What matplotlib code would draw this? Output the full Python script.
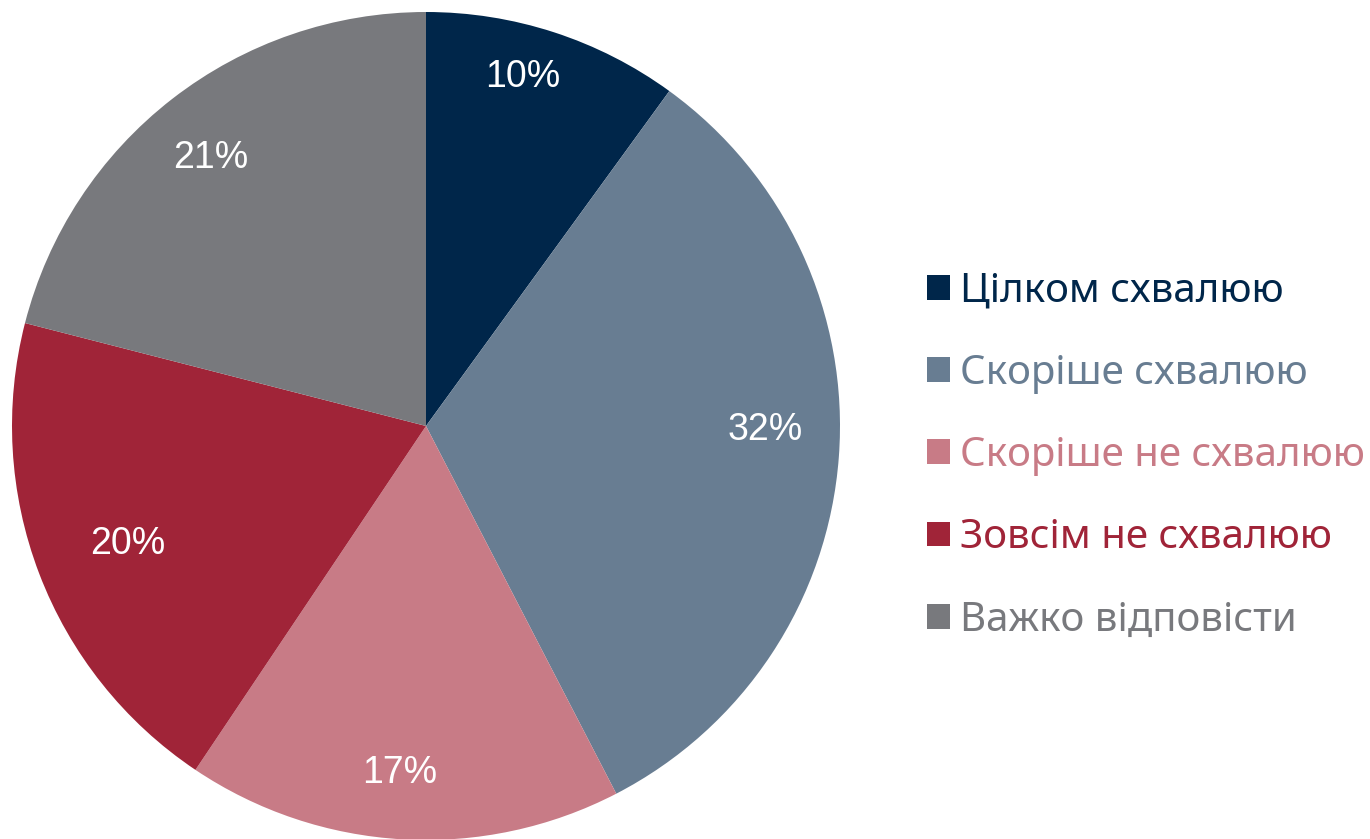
import numpy as np
import matplotlib
matplotlib.use("Agg")
import matplotlib.pyplot as plt

labels = ["Цілком схвалюю", "Скоріше схвалюю", "Скоріше не схвалюю",
          "Зовсім не схвалюю", "Важко відповісти"]
values = [10.0, 32.4, 17.0, 19.6, 21.0]
pct_labels = ["10%", "32%", "17%", "20%", "21%"]
colors = ["#00264A", "#687D92", "#C87B86", "#A02438", "#78797D"]

# label placement inside each wedge: radius fraction, angle shift (deg)
label_dist = [0.875, 0.82, 0.84, 0.775, 0.83]
label_shift = [2.5, 3.6, -1.1, 0.7, 1.0]

W, H = 1370, 839
fig = plt.figure(figsize=(W / 100, H / 100), dpi=100)

# pie centre ~ (426, 426) px, radius ~ 414 px
cx, cy, r = 426, 426, 414
ax = fig.add_axes([(cx - r) / W, (H - cy - r) / H, 2 * r / W, 2 * r / H])

wedges, _ = ax.pie(values, colors=colors, startangle=90,
                   counterclock=False, radius=1)
for w, txt, d, s in zip(wedges, pct_labels, label_dist, label_shift):
    ang = np.deg2rad((w.theta1 + w.theta2) / 2 + s)
    ax.text(d * np.cos(ang), d * np.sin(ang), txt, color="white",
            fontsize=27, family="Liberation Sans", ha="center", va="center")
ax.set_xlim(-1, 1)
ax.set_ylim(-1, 1)
ax.set_aspect("equal")
ax.axis("off")

fig.legend(wedges, labels, loc="center left",
           bbox_to_anchor=(927 / W, 1 - 456 / H),
           frameon=False, labelcolor=colors,
           prop=dict(family="Noto Sans", size=29),
           handlelength=0.57, handleheight=0.57, handletextpad=0.25,
           labelspacing=1.05, borderpad=0, borderaxespad=0)

fig.savefig("out.png", dpi=100)
